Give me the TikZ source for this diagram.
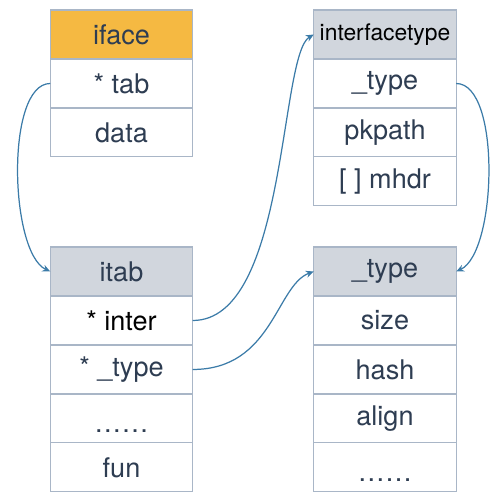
\documentclass[tikz,border=0pt]{standalone}
\usepackage{fontspec}
\setmainfont{TeX Gyre Heros}
\usetikzlibrary{positioning, arrows.meta}
\definecolor{hdrgray}{HTML}{D1D6DD}
\definecolor{hdrorange}{HTML}{F5B942}
\definecolor{boxline}{HTML}{A9B6C7}
\definecolor{txt}{HTML}{2E3D52}
\definecolor{link}{HTML}{3B7BA8}

\begin{document}
\begin{tikzpicture}[x=0.02cm, y=0.02cm, node distance=0pt,
		fld/.style={draw=boxline, line width=0.6pt, fill=white, minimum width=2.85cm, minimum height=0.98cm, inner sep=0pt, outer sep=0pt, text=txt, font=\fontsize{15.4}{18}\selectfont},
		hdr/.style={fld, fill=hdrgray},
		ptr/.style={draw=link, line width=0.7pt, -{Stealth[length=4.5pt, width=4pt]}}]
		\useasboundingbox (0,0) rectangle (500,504);
		% iface
		\node[hdr, fill=hdrorange] (iface) at (121.5,469.5) {iface};
		\node[fld] (tab) [below=of iface] {* tab}; \node[fld] (data) [below=of tab] {data};
		% interfacetype
		\node[hdr, text=black, font=\fontsize{13}{15}\selectfont] (itype) at (385,469.5) {interfacetype};
		\node[fld] (ityp) [below=of itype] {\_type}; \node[fld] (pkpath) [below=of ityp] {pkpath};
		\node[fld] (mhdr) [below=of pkpath] {[ ] mhdr};
		% itab
		\node[hdr] (itab) at (121.5,232.5) {itab};
		\node[fld, text=black] (inter) [below=of itab] {* inter}; \node[fld] (ttyp) [below=of inter] {* \_type};
		\node[fld] (idots) [below=of ttyp] {\raisebox{-2ex}{……}}; \node[fld] (fun) [below=of idots] {fun};
		% _type
		\node[hdr] (type) at (385,232.5) {\_type};
		\node[fld] (size) [below=of type] {size}; \node[fld] (hash) [below=of size] {hash};
		\node[fld] (align) [below=of hash] {align}; \node[fld] (tdots) [below=of align] {\raisebox{-2ex}{……}};
		% pointers
		\draw[ptr] (tab.west) to[out=180, in=155, out distance=0.9cm, in distance=0.9cm] (itab.west);
		\draw[ptr] (inter.east) to[out=0, in=210, out distance=1.9cm, in distance=0.8cm] (itype.west);
		\draw[ptr] (ttyp.east) to[out=0, in=200, out distance=1.6cm, in distance=0.8cm] (type.west);
		\draw[ptr] (ityp.east) to[out=0, in=25, out distance=0.9cm, in distance=0.9cm] (type.east);
	\end{tikzpicture}
\end{document}
